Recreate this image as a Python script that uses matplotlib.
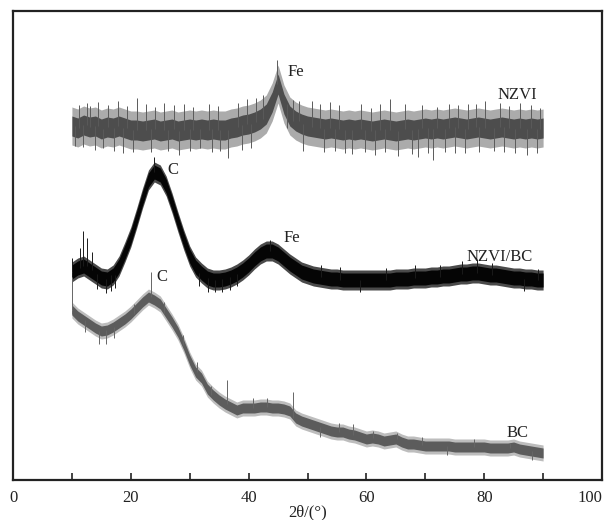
import matplotlib
matplotlib.use("Agg")
import matplotlib.pyplot as plt
import numpy as np

# 2theta grid (degrees), one reading per degree
two_theta = list(range(10, 91))

# intensity readings (arbitrary units)
nzvi = [354, 352, 355, 353, 354, 351, 353, 352, 354, 352,
        350, 350, 349, 350, 351, 349, 350, 351, 349, 350,
        351, 350, 351, 350, 351, 350, 350, 352, 353, 355,
        356, 358, 361, 366, 378, 396, 376, 364, 359, 356,
        354, 353, 352, 351, 352, 351, 350, 351, 350, 351,
        350, 349, 350, 351, 350, 349, 350, 351, 350, 351,
        352, 351, 352, 351, 352, 353, 352, 351, 352, 353,
        352, 351, 352, 353, 352, 351, 352, 351, 352, 351,
        352]
nzvi_bc = [208, 212, 214, 210, 206, 202, 201, 205, 214, 228,
           243, 262, 282, 300, 308, 305, 294, 277, 258, 240,
           224, 213, 207, 202, 200, 200, 201, 203, 206, 210,
           215, 221, 226, 229, 229, 226, 221, 216, 212, 208,
           206, 204, 203, 202, 201, 201, 200, 200, 200, 200,
           200, 200, 200, 200, 200, 201, 201, 201, 202, 202,
           202, 203, 203, 204, 204, 205, 206, 206, 207, 207,
           206, 205, 205, 204, 203, 202, 202, 201, 201, 200,
           200]
bc = [170, 164, 160, 156, 152, 149, 150, 153, 157, 161,
      166, 172, 178, 183, 180, 176, 167, 158, 148, 135,
      120, 108, 102, 91, 85, 80, 76, 73, 70, 72,
      72, 72, 73, 73, 72, 72, 71, 69, 62, 59,
      57, 55, 53, 51, 49, 48, 48, 46, 45, 43,
      41, 42, 41, 39, 40, 41, 38, 36, 36, 35,
      34, 34, 34, 34, 34, 33, 33, 33, 33, 33,
      33, 32, 32, 32, 32, 33, 31, 30, 29, 28,
      27]

# noise spread of each pattern (half width of dense core / of outer fringe)
nzvi_noise = (10, 19)
nzvi_bc_noise = (7, 10)
bc_noise = (5, 8)

# spikes sticking out of the noise: (2theta, tip offset from the curve)
nzvi_spikes = [(10.5, -20), (11.2, 23), (11.8, -22), (12.5, 22), (13.1, 21), (13.9, -24),
               (14.4, 24), (15.3, -19), (16.2, 22), (17.1, -23), (17.8, 25), (18.7, -25),
               (19.3, 22), (20.3, -22), (21.0, 32), (22.6, 26), (23.5, -23), (24.1, 22),
               (25.7, 27), (26.3, -21), (27.4, 24), (28.2, -24), (29.0, 26), (30.1, -22),
               (30.6, 23), (31.7, -19), (33.2, 26), (33.8, -23), (34.8, 24), (35.2, -21),
               (36.5, -28), (38.2, 24), (38.9, -25), (39.7, 25), (40.4, -24), (41.3, 24),
               (42.5, 24), (44.9, 24), (46.5, -24), (47.6, 21), (48.5, 20), (49.3, -27),
               (50.7, 26), (52.2, 24), (52.8, -23), (53.9, 26), (54.6, -22), (55.4, 24),
               (56.3, -23), (57.6, -24), (59.1, 25), (59.8, -22), (60.7, 23), (61.5, -25),
               (62.3, 26), (63.2, -23), (64.0, 31), (65.4, -25), (66.6, 25), (67.7, -24),
               (68.8, -28), (69.5, 23), (70.4, -25), (71.3, -31), (72.0, 21), (73.3, -23),
               (74.1, 24), (75.0, -26), (75.6, 23), (76.8, -24), (77.3, 25), (78.6, 23),
               (79.2, -25), (80.1, 27), (81.6, -23), (82.7, 24), (83.4, -25), (84.2, 22),
               (85.3, -24), (86.1, 25), (87.2, -26), (88.0, 23), (89.0, -24), (89.4, 21)]
nzvi_bc_spikes = [(10.0, 14), (10.0, -11), (11.3, 20), (11.9, 35), (12.5, 28), (13.4, 18),
                  (14.2, -15), (15.8, -14), (16.6, -16), (17.4, -13), (24.0, 15), (31.5, -13),
                  (33.1, -14), (34.3, -12), (35.5, -13), (36.8, -13), (38.1, -12), (43.6, 11),
                  (52.3, 12), (55.6, 13), (58.9, -12), (63.4, 12), (68.2, 13), (72.5, 12),
                  (76.3, 13), (78.8, 14), (81.4, 12), (86.7, -12), (89.2, 11)]
bc_spikes = [(10.0, 33), (10.0, -4), (12.3, -12), (14.6, -13), (15.8, -14), (17.2, -11),
             (20.5, 10), (23.4, 25), (25.6, 11), (28.9, 10), (31.2, 10), (33.7, 9),
             (36.3, 24), (40.8, 10), (43.2, 9), (47.5, 26), (52.1, -10), (55.3, 9),
             (57.7, 11), (61.1, 7), (65.2, 6), (69.4, 8), (73.6, -9), (78.2, 8),
             (84.4, 5), (88.1, -9)]

plt.rcParams['font.family'] = ['Liberation Serif', 'DejaVu Serif']

fig = plt.figure(figsize=(6.07, 5.2), dpi=100)
ax = fig.add_axes([13 / 607, 40 / 520, 589 / 607, 469 / 520])

def draw_pattern(ys, noise, spikes, core_col, fringe_col, spike_col):
    ys = np.array(ys, dtype=float)
    ax.fill_between(two_theta, ys - noise[1], ys + noise[1], color=fringe_col, lw=0)
    ax.fill_between(two_theta, ys - noise[0], ys + noise[0], color=core_col, lw=0)
    for x, off in spikes:
        base = ys[int(round(x)) - two_theta[0]]
        ax.vlines(x, min(base, base + off), max(base, base + off), color=spike_col, lw=0.7)

draw_pattern(nzvi, nzvi_noise, nzvi_spikes, '#4d4d4d', '#ababab', '#5a5a5a')
draw_pattern(nzvi_bc, nzvi_bc_noise, nzvi_bc_spikes, '#050505', '#4a4a4a', '#1a1a1a')
draw_pattern(bc, bc_noise, bc_spikes, '#5c5c5c', '#bdbdbd', '#666666')

txt = dict(fontsize=12, ha='center', va='center', color='#222222')
ax.text(48.0, 408, 'Fe', **txt)
ax.text(85.6, 385, 'NZVI', **txt)
ax.text(27.2, 310, 'C', **txt)
ax.text(47.4, 242, 'Fe', **txt)
ax.text(82.7, 223, 'NZVI/BC', **txt)
ax.text(25.3, 203, 'C', **txt)
ax.text(85.7, 47, 'BC', **txt)

ax.set_xlim(0, 100)
ax.set_ylim(0, 469)
ax.set_xticks(range(0, 101, 20))
ax.set_xticks(range(10, 100, 20), minor=True)
ax.set_yticks([])
ax.tick_params(axis='x', which='both', direction='in', length=5, width=1.2,
               labelsize=12, pad=7, colors='#222222')
# last label sits against the right edge of the figure
ax.get_xticklabels()[-1].set_horizontalalignment('right')
for s in ax.spines.values():
    s.set_linewidth(1.6)
    s.set_color('#222222')
ax.set_xlabel('2θ/(°)', fontsize=12, labelpad=-1, color='#222222')

fig.savefig('out.png', dpi=100)
